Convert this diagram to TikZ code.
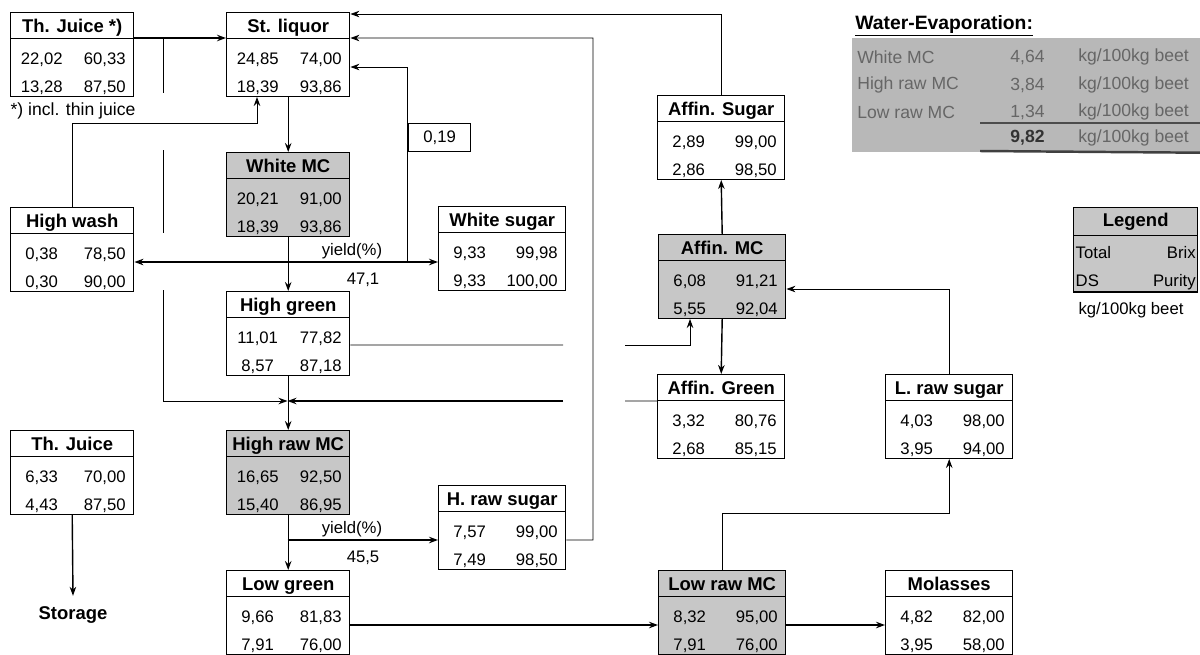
\documentclass[tikz,border=0pt]{standalone}
\usepackage{fontspec}
\setmainfont{Liberation Sans}
\usepackage{array}
\usepackage{tikz}
\usetikzlibrary{arrows.meta}

\setlength{\arrayrulewidth}{0.8pt}
\renewcommand{\arraystretch}{0}
\newcommand{\flowtab}[6][1.06cm]{%
  \begin{tabular}{@{}w{c}{1.24cm}@{}w{r}{#1}@{\hspace{0.16cm}}}
    \multicolumn{2}{@{}c@{}}{\bfseries\fontsize{10.5}{12}\selectfont #2\rule[-0.1cm]{0pt}{0.5cm}}\\ \hline
    #3 & #4\rule[-0.02cm]{0pt}{0.52cm}\\
    #5 & #6\rule[-0.08cm]{0pt}{0.6cm}
  \end{tabular}}

\begin{document}
\begin{tikzpicture}[x=0.2mm,y=-0.2mm,>={Stealth[length=1.8mm,width=1.3mm]},
  flowbox/.style={draw,line width=0.8pt,inner sep=0pt,anchor=north west,font=\fontsize{9.5}{11}\selectfont},
  mcbox/.style={flowbox,fill=black!22},
  flow/.style={->,line width=0.8pt},
  thinflow/.style={->,line width=0.5pt},
  thinline/.style={line width=0.5pt},
  lbl/.style={font=\fontsize{9.5}{11}\selectfont,inner sep=0pt},
  evtxt/.style={lbl,text=black!60,font=\fontsize{10}{12}\selectfont}]
  \useasboundingbox (0,0) rectangle (1200,654);

  % boxes
  \node[flowbox] (TJ1) at (10,12) {\flowtab{Th. Juice *)}{22,02}{60,33}{13,28}{87,50}};
  \node[flowbox] (SL) at (226,12) {\flowtab{St. liquor}{24,85}{74,00}{18,39}{93,86}};
  \node[mcbox] (WMC) at (226,152) {\flowtab{White MC}{20,21}{91,00}{18,39}{93,86}};
  \node[flowbox] (HW) at (10,207) {\flowtab{High wash}{0,38}{78,50}{0,30}{90,00}};
  \node[flowbox] (WS) at (438,206) {\flowtab[1.14cm]{White sugar}{9,33}{99,98}{9,33}{100,00}};
  \node[flowbox] (HG) at (226,291) {\flowtab{High green}{11,01}{77,82}{8,57}{87,18}};
  \node[flowbox] (AS) at (657,95) {\flowtab[1.14cm]{Affin. Sugar}{2,89}{99,00}{2,86}{98,50}};
  \node[mcbox] (AMC) at (658,234) {\flowtab[1.14cm]{Affin. MC}{6,08}{91,21}{5,55}{92,04}};
  \node[flowbox] (AG) at (657,374) {\flowtab[1.14cm]{Affin. Green}{3,32}{80,76}{2,68}{85,15}};
  \node[flowbox] (LRS) at (885,374) {\flowtab[1.14cm]{L. raw sugar}{4,03}{98,00}{3,95}{94,00}};
  \node[flowbox] (TJ2) at (10,430) {\flowtab{Th. Juice}{6,33}{70,00}{4,43}{87,50}};
  \node[mcbox] (HRMC) at (226,430) {\flowtab{High raw MC}{16,65}{92,50}{15,40}{86,95}};
  \node[flowbox] (HRS) at (438,485) {\flowtab[1.14cm]{H. raw sugar}{7,57}{99,00}{7,49}{98,50}};
  \node[flowbox] (LG) at (226,570) {\flowtab{Low green}{9,66}{81,83}{7,91}{76,00}};
  \node[mcbox] (LRMC) at (658,570) {\flowtab[1.14cm]{Low raw MC}{8,32}{95,00}{7,91}{76,00}};
  \node[flowbox] (MOL) at (885,570) {\flowtab[1.14cm]{Molasses}{4,82}{82,00}{3,95}{58,00}};
  \node[flowbox,minimum width=1.24cm,minimum height=0.56cm,font=\fontsize{9.5}{11}\selectfont] (WA) at (408,123) {0,19};

  \node[lbl,font=\fontsize{10}{12}\selectfont] (NOTE) at (73,111) {*) incl. thin juice};
  \node[lbl,font=\bfseries\fontsize{10.5}{12}\selectfont,anchor=base,inner sep=2mm] (ST) at (73,619) {Storage};

  % legend
  \node[mcbox] (LEG) at (1073,207) {\begin{tabular}{@{\hspace{0.04cm}}w{l}{1.2cm}@{}w{r}{1.2cm}@{\hspace{0.04cm}}}
      \multicolumn{2}{@{}c@{}}{\bfseries\fontsize{10.5}{12}\selectfont Legend\rule[-0.16cm]{0pt}{0.54cm}}\\ \hline
      Total & Brix\rule[-0.08cm]{0pt}{0.52cm}\\
      DS & Purity\rule[-0.12cm]{0pt}{0.6cm}
    \end{tabular}};
  \node[lbl] (KG) at (1131,310) {kg/100kg beet};

  % water evaporation
  \node[fill=black!28,inner sep=0pt,minimum width=6.96cm,minimum height=2.28cm,anchor=north west] (EV) at (852,38) {};
  \node[lbl,font=\bfseries\fontsize{11}{13}\selectfont,anchor=west] (EVT) at (855,26) {\underline{Water-Evaporation:}};
  \node[evtxt,anchor=west] (EV1) at (857,57) {White MC};
  \node[evtxt,anchor=east] (EV1N) at (1045,57) {4,64};
  \node[evtxt,anchor=west] (EV1U) at (1078,57) {kg/100kg beet};
  \node[evtxt,anchor=west] (EV2) at (857,85) {High raw MC};
  \node[evtxt,anchor=east] (EV2N) at (1045,85) {3,84};
  \node[evtxt,anchor=west] (EV2U) at (1078,85) {kg/100kg beet};
  \node[evtxt,anchor=west] (EV3) at (857,112) {Low raw MC};
  \node[evtxt,anchor=east] (EV3N) at (1045,112) {1,34};
  \node[evtxt,anchor=west] (EV3U) at (1078,112) {kg/100kg beet};
  \node[evtxt,anchor=east,text=black!80,font=\bfseries\fontsize{10}{12}\selectfont] (EVSN) at (1045,138) {9,82};
  \node[evtxt,anchor=west] (EVSU) at (1078,138) {kg/100kg beet};
  \draw[line width=0.6pt,black!70] (980,123) -- (EV.east |- 0,123);
  \draw[line width=1.4pt,black!75] (980,151) -- (EV.south east);

  % junctions
  \coordinate (J1) at (163,38);
  \coordinate (JN) at (287.5,401);
  \coordinate (Y1) at (287.5,262);
  \coordinate (Y2) at (407,262);
  \coordinate (Y3) at (287.5,540);
  \coordinate (RC) at (593,38);

  % connectors
  \draw[flow] ([yshift=-0.52cm]TJ1.north east) -- ([yshift=-0.52cm]SL.north west);
  \draw[thinline] (J1) -- (163,93) (163,150) -- (163,233);
  \draw[thinflow] (163,290) |- (JN);
  \draw[thinflow] (HW.north) -- ++(0,-84) -| ([xshift=0.62cm]SL.south west);
  \draw[flow] (SL.south) -- (WMC.north);
  \draw[flow] (WMC.south) -- (HG.north);
  \draw[flow] (Y1) -- (Y1 -| HW.east);
  \draw[flow] (Y1) -- (Y1 -| WS.west);
  \node[lbl] (YL1) at (352,251) {yield(\%)};
  \node[lbl] (YV1) at (363,280) {47,1};
  \draw[thinflow] (Y2) |- ([yshift=-1.1cm]SL.north east);
  \draw[thinflow] (AS.north) |- ([yshift=-0.04cm]SL.north east);
  \draw[thinflow] ([yshift=-1.1cm]HRS.north east) -| (RC) -- ([yshift=-0.52cm]SL.north east);
  \draw[thinline] ([yshift=-1.08cm]HG.north east) -- (563,345);
  \draw[thinflow] (625,345) -| ([xshift=0.64cm]AMC.south west);
  \draw[thinline] ([yshift=-0.54cm]AG.north west) -- (625,401);
  \draw[flow] (563,401) -- (JN);
  \draw[flow] (HG.south) -- (HRMC.north);
  \draw[flow] (AMC.north) -- (AS.south);
  \draw[flow] (AMC.south) -- (AG.north);
  \draw[thinflow] (LRS.north) |- ([yshift=-1.1cm]AMC.north east);
  \draw[flow] (HRMC.south) -- (LG.north);
  \draw[flow] (Y3) -- (Y3 -| HRS.west);
  \node[lbl] (YL2) at (352,529) {yield(\%)};
  \node[lbl] (YV2) at (363,558) {45,5};
  \draw[flow] ([yshift=-1.1cm]LG.north east) -- ([yshift=-1.1cm]LRMC.north west);
  \draw[thinflow] (LRMC.north) -- ++(0,-57) -| (LRS.south);
  \draw[flow] ([yshift=-1.1cm]LRMC.north east) -- ([yshift=-1.1cm]MOL.north west);
  \draw[flow] (TJ2.south) -- (ST.north);
\end{tikzpicture}
\end{document}
